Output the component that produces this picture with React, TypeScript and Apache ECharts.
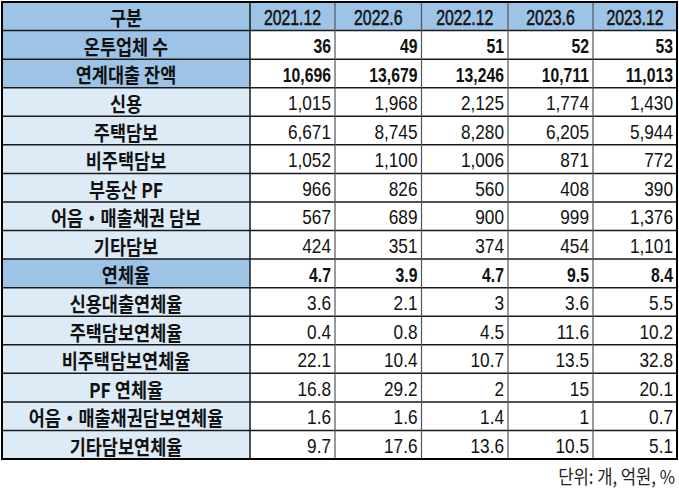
import React, { useEffect, useRef } from "react";
import * as echarts from "echarts";

const headerLabel = "구분";
const periods = ["2021.12", "2022.6", "2022.12", "2023.6", "2023.12"];
const rowLabels = [
  "온투업체 수",
  "연계대출 잔액",
  "신용",
  "주택담보",
  "비주택담보",
  "부동산 PF",
  "어음・매출채권 담보",
  "기타담보",
  "연체율",
  "신용대출연체율",
  "주택담보연체율",
  "비주택담보연체율",
  "PF 연체율",
  "어음・매출채권담보연체율",
  "기타담보연체율",
];
const companies = [36, 49, 51, 52, 53];
const loanBalance = [10696, 13679, 13246, 10711, 11013];
const credit = [1015, 1968, 2125, 1774, 1430];
const housing = [6671, 8745, 8280, 6205, 5944];
const nonHousing = [1052, 1100, 1006, 871, 772];
const realEstatePF = [966, 826, 560, 408, 390];
const billsReceivables = [567, 689, 900, 999, 1376];
const otherCollateral = [424, 351, 374, 454, 1101];
const delinquency = [4.7, 3.9, 4.7, 9.5, 8.4];
const creditDelinq = [3.6, 2.1, 3, 3.6, 5.5];
const housingDelinq = [0.4, 0.8, 4.5, 11.6, 10.2];
const nonHousingDelinq = [22.1, 10.4, 10.7, 13.5, 32.8];
const pfDelinq = [16.8, 29.2, 2, 15, 20.1];
const billsDelinq = [1.6, 1.6, 1.4, 1, 0.7];
const otherDelinq = [9.7, 17.6, 13.6, 10.5, 5.1];
const unitNote = "단위: 개, 억원, %";

const rowValues = [
  companies,
  loanBalance,
  credit,
  housing,
  nonHousing,
  realEstatePF,
  billsReceivables,
  otherCollateral,
  delinquency,
  creditDelinq,
  housingDelinq,
  nonHousingDelinq,
  pfDelinq,
  billsDelinq,
  otherDelinq,
];
const strongRows = [0, 1, 8];

export default function App() {
  const ref = useRef<HTMLDivElement>(null);
  useEffect(() => {
    document.body.style.margin = "0";
    const chart = echarts.init(ref.current!, null, { renderer: "svg" });
    const X = [2, 250, 335, 421.5, 508, 593, 677];
    const TOP = 2;
    const BOTTOM = 459;
    const nRows = rowLabels.length + 1;
    const RH = (BOTTOM - TOP) / nRows;
    const BLUE = "#9dc3e6";
    const LIGHT = "#ddebf7";
    const korFont = "'Noto Sans CJK KR', sans-serif";
    const numFont = "'Liberation Sans', Arial, 'Noto Sans CJK KR', sans-serif";
    const els: any[] = [];
    const txt = (x: number, y: number, text: string, align: string, opts: any, sx: number, sy: number) => ({
      type: "text",
      x,
      y,
      scaleX: sx,
      scaleY: sy,
      style: { x: 0, y: 0, text, align, verticalAlign: "middle", fill: "#111", ...opts },
    });
    els.push({ type: "rect", shape: { x: X[0], y: TOP, width: X[6] - X[0], height: RH }, style: { fill: BLUE } });
    rowLabels.forEach((_, i) => {
      const y = TOP + (i + 1) * RH;
      els.push({
        type: "rect",
        shape: { x: X[0], y, width: X[1] - X[0], height: RH },
        style: { fill: strongRows.includes(i) ? BLUE : LIGHT },
      });
    });
    for (let r = 1; r < nRows; r++) {
      const y = TOP + r * RH;
      els.push({ type: "line", shape: { x1: X[0], y1: y, x2: X[6], y2: y }, style: { stroke: "#1a1a1a", lineWidth: 1.5 } });
    }
    for (let c = 1; c < 6; c++) {
      els.push({
        type: "line",
        shape: { x1: X[c], y1: TOP, x2: X[c], y2: BOTTOM },
        style: { stroke: c === 1 ? "#1a1a1a" : "#555", lineWidth: c === 1 ? 1.5 : 1.2 },
      });
    }
    els.push({
      type: "rect",
      shape: { x: X[0], y: TOP, width: X[6] - X[0], height: BOTTOM - TOP },
      style: { fill: "none", stroke: "#000", lineWidth: 2 },
    });
    const korStyle = { fontSize: 17.5, fontWeight: "bold", fontFamily: korFont };
    els.push(txt((X[0] + X[1]) / 2, TOP + RH / 2 + 1, headerLabel, "center", korStyle, 1, 1.15));
    periods.forEach((p, c) => {
      els.push(
        txt((X[c + 1] + X[c + 2]) / 2, TOP + RH / 2 + 1, p, "center",
          { fontSize: 22, fontFamily: numFont, stroke: "#111", lineWidth: 0.5 }, 0.72, 1)
      );
    });
    rowLabels.forEach((lab, i) => {
      const yc = TOP + (i + 1.5) * RH + 1;
      els.push(txt((X[0] + X[1]) / 2, yc, lab, "center", korStyle, 1, 1.15));
      const strong = strongRows.includes(i);
      rowValues[i].forEach((v, c) => {
        els.push(
          txt(X[c + 2] - 4, yc, v.toLocaleString("en-US"), "right",
            { fontSize: 21, fontWeight: strong ? "bold" : "normal", fontFamily: numFont }, strong ? 0.75 : 0.82, 1)
        );
      });
    });
    els.push(txt(675, 475, unitNote, "right", { fontSize: 17.5, fontFamily: korFont, fill: "#222" }, 0.95, 1.1));
    chart.setOption({ animation: false, backgroundColor: "#fff", graphic: { elements: els } });
    return () => chart.dispose();
  }, []);
  return <div ref={ref} style={{ width: 679, height: 490 }} />;
}
